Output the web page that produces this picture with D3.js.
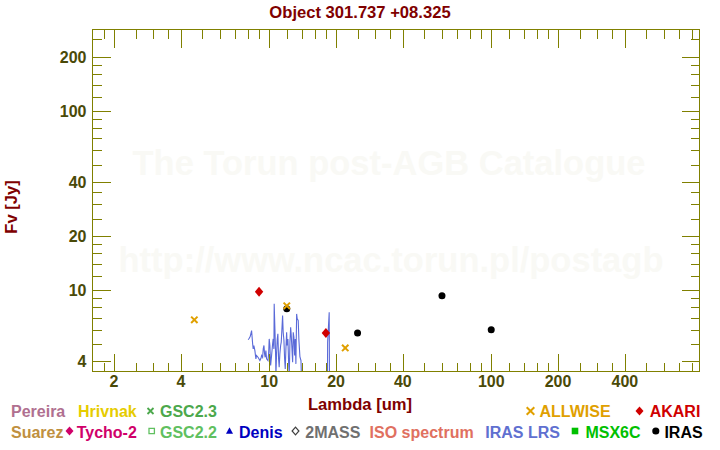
<!DOCTYPE html>
<html>
<head>
<meta charset="utf-8">
<script src="https://cdn.jsdelivr.net/npm/d3@7"></script>
<style>
html,body{margin:0;padding:0;background:#fff;}
svg{display:block;font-family:"Liberation Sans",Arial,Helvetica,sans-serif;font-weight:bold;}
</style>
</head>
<body>
<svg id="chart" width="720" height="450"></svg>
<script>
// ---------- DATA ----------
const title = "Object 301.737 +08.325";
const xLabel = "Lambda [um]";
const yLabel = "Fv [Jy]";
const watermark1 = "The Torun post-AGB Catalogue";
const watermark2 = "http://www.ncac.torun.pl/postagb";

const xMajorTicks = [2, 4, 10, 20, 40, 100, 200, 400];
const xMinorTicks = [1.8, 2.5, 3, 3.5, 5, 6, 7, 8, 9, 12, 14, 16, 18, 25, 30, 35, 50, 60, 70, 80, 90, 120, 140, 160, 180, 250, 300, 350, 500, 600, 700, 800];
const yMajorTicks = [4, 10, 20, 40, 100, 200];
const yMinorTicks = [5, 6, 7, 8, 9, 12, 14, 16, 18, 25, 30, 35, 50, 60, 70, 80, 90, 120, 140, 160, 180, 250];

// ALLWISE photometry
const allwiseLambda = [4.6, 12, 22];
const allwiseFlux = [6.80, 8.14, 4.74];
// AKARI photometry
const akariLambda = [9, 18];
const akariFlux = [9.75, 5.75];
// IRAS photometry
const irasLambda = [12, 25, 60, 100];
const irasFlux = [7.83, 5.75, 9.26, 5.98];

// IRAS LRS spectrum
const lrsLambda = [8.04, 8.13, 8.21, 8.33, 8.42, 8.47, 8.53, 8.62, 8.71, 8.77, 8.92, 9.08, 9.18, 9.24, 9.34, 9.40, 9.47, 9.53, 9.59, 9.66, 9.73, 9.87, 9.94, 10.00, 10.07, 10.15, 10.25, 10.36, 10.42, 10.50, 10.53, 10.61, 10.69, 10.72, 10.80, 10.87, 10.94, 11.02, 11.09, 11.17, 11.26, 11.33, 11.41, 11.49, 11.56, 11.65, 11.73, 11.81, 11.89, 11.98, 12.05, 12.14, 12.23, 12.31, 12.40, 12.49, 12.57, 12.66, 12.75, 12.83, 12.92, 13.02, 13.10, 13.19, 13.29, 13.37, 13.51, 13.61, 13.75, 13.90, 14.00, 14.5, 15.5, 16.5, 17.5, 18.10, 18.30, 18.33, 18.63, 18.68, 19.5, 20.5, 21.5, 22.6];
const lrsFlux = [5.26, 5.37, 5.48, 5.92, 5.01, 4.68, 4.89, 4.58, 4.12, 4.30, 4.19, 4.03, 4.15, 4.30, 4.20, 4.68, 4.89, 4.39, 4.20, 4.58, 4.12, 4.03, 4.39, 5.32, 4.89, 3.78, 4.30, 4.99, 5.32, 4.68, 8.35, 6.06, 4.20, 3.32, 4.48, 5.32, 5.68, 4.12, 3.70, 4.39, 4.89, 5.10, 6.06, 7.18, 5.80, 5.21, 4.12, 3.62, 4.68, 5.80, 4.89, 5.32, 3.94, 3.32, 5.10, 6.18, 5.56, 4.68, 3.94, 5.80, 5.44, 4.30, 5.32, 3.86, 7.34, 6.89, 6.74, 5.21, 4.24, 4.03, 3.00, 2.6, 2.4, 2.5, 2.3, 2.8, 3.2, 5.10, 7.50, 3.20, 2.6, 2.4, 2.5, 2.3];

// Legend
const legendRow1 = [
  {name: "Pereira", color: "#B07090", x: 11, sym: null},
  {name: "Hrivnak", color: "#E6CC00", x: 78, sym: null},
  {name: "GSC2.3", color: "#4CA84C", x: 160, sym: "xsmall", sx: 150.5},
  {name: "ALLWISE", color: "#E0A000", x: 539.5, sym: "x", sx: 530.5},
  {name: "AKARI", color: "#D00000", x: 649.7, sym: "diamond", sx: 639.5}
];
const legendRow2 = [
  {name: "Suarez", color: "#C09040", x: 11, sym: null},
  {name: "Tycho-2", color: "#D0006A", x: 76.7, sym: "diamond", sx: 69.5},
  {name: "GSC2.2", color: "#60C060", x: 160, sym: "squareOpen", sx: 151.7},
  {name: "Denis", color: "#0000C0", x: 239, sym: "triangle", sx: 229.5},
  {name: "2MASS", color: "#707070", x: 305.3, sym: "diamondOpen", sx: 295.5},
  {name: "ISO spectrum", color: "#E07060", x: 369.6, sym: null},
  {name: "IRAS LRS", color: "#6070D0", x: 485.3, sym: null},
  {name: "MSX6C", color: "#00C000", x: 585.4, sym: "square", sx: 575},
  {name: "IRAS", color: "#000000", x: 664.4, sym: "circle", sx: 655.8}
];

// ---------- CHART ----------
(function () {
const svg = d3.select("#chart");
const W = 720, H = 450;
const pL = 92.5, pR = 699.5, pT = 29.5, pB = 371.5;
const axisColor = "#808000";
const tickLabelColor = "#4A4A08";
const labelColor = "#800000";

const x = d3.scaleLog().domain([1.6, 867]).range([pL, pR]);
const y = d3.scaleLog().domain([3.5, 284]).range([pB, pT]);

svg.append("rect").attr("width", W).attr("height", H).attr("fill", "#fff");

// watermark
svg.append("text").attr("x", 389).attr("y", 175).attr("text-anchor", "middle")
  .attr("font-size", 34.5).attr("fill", "#F9F9F5").text(watermark1);
svg.append("text").attr("x", 391).attr("y", 271.5).attr("text-anchor", "middle")
  .attr("font-size", 34.5).attr("fill", "#F9F9F5").text(watermark2);

// clip
svg.append("clipPath").attr("id", "plotclip").append("rect")
  .attr("x", pL).attr("y", pT).attr("width", pR - pL).attr("height", pB - pT);

// spectrum
const lrsData = lrsLambda.map((l, i) => [l, lrsFlux[i]]);
svg.append("path").datum(lrsData)
  .attr("clip-path", "url(#plotclip)")
  .attr("fill", "none").attr("stroke", "#5A6AD8").attr("stroke-width", 1.1)
  .attr("d", d3.line().x(d => x(d[0])).y(d => y(d[1])));

const gm = svg.append("g").attr("clip-path", "url(#plotclip)");
// IRAS
gm.selectAll("circle.iras").data(irasLambda.map((l, i) => [l, irasFlux[i]])).join("circle")
  .attr("cx", d => x(d[0])).attr("cy", d => y(d[1])).attr("r", 3.5).attr("fill", "#000");
// AKARI
gm.selectAll("path.akari").data(akariLambda.map((l, i) => [l, akariFlux[i]])).join("path")
  .attr("transform", d => `translate(${x(d[0])},${y(d[1])})`)
  .attr("d", "M0,-5L4.2,0L0,5L-4.2,0Z").attr("fill", "#D00000");
// ALLWISE
gm.selectAll("path.wise").data(allwiseLambda.map((l, i) => [l, allwiseFlux[i]])).join("path")
  .attr("transform", d => `translate(${x(d[0])},${y(d[1])})`)
  .attr("d", "M-3.2,-3.2L3.2,3.2M-3.2,3.2L3.2,-3.2").attr("stroke", "#E0A000").attr("stroke-width", 2).attr("fill", "none");

// frame + ticks
const ax = svg.append("g").attr("stroke", axisColor).attr("stroke-width", 1).attr("shape-rendering", "crispEdges");
ax.append("rect").attr("x", pL).attr("y", pT).attr("width", pR - pL).attr("height", pB - pT).attr("fill", "none");
const xt = xMajorTicks.map(v => ({v, len: 18})).concat(xMinorTicks.map(v => ({v, len: 9})));
const yt = yMajorTicks.map(v => ({v, len: 18})).concat(yMinorTicks.map(v => ({v, len: 9})));
xt.forEach(t => {
  const px = Math.round(x(t.v)) + 0.5;
  ax.append("line").attr("x1", px).attr("x2", px).attr("y1", pB).attr("y2", pB - t.len);
  ax.append("line").attr("x1", px).attr("x2", px).attr("y1", pT).attr("y2", pT + t.len);
});
yt.forEach(t => {
  const py = Math.round(y(t.v)) + 0.5;
  ax.append("line").attr("y1", py).attr("y2", py).attr("x1", pL).attr("x2", pL + t.len);
  ax.append("line").attr("y1", py).attr("y2", py).attr("x1", pR).attr("x2", pR - t.len);
});

// tick labels
svg.append("g").selectAll("text").data(xMajorTicks).join("text")
  .attr("x", d => x(d)).attr("y", 387).attr("text-anchor", "middle")
  .attr("font-size", 16).attr("fill", tickLabelColor).text(d => d);
svg.append("g").selectAll("text").data(yMajorTicks).join("text")
  .attr("x", 86.5).attr("y", d => y(d) + 6).attr("text-anchor", "end")
  .attr("font-size", 16).attr("fill", tickLabelColor).text(d => d);

// titles
svg.append("text").attr("x", 360).attr("y", 17.5).attr("text-anchor", "middle")
  .attr("font-size", 16.6).attr("fill", labelColor).text(title);
svg.append("text").attr("x", 360).attr("y", 410).attr("text-anchor", "middle")
  .attr("font-size", 16.6).attr("fill", labelColor).text(xLabel);
svg.append("text").attr("transform", "translate(17,207) rotate(-90)").attr("text-anchor", "middle")
  .attr("font-size", 16.6).attr("fill", labelColor).text(yLabel);

// legend
function drawSym(g, sym, cx, cy, color) {
  if (!sym) return;
  const s = g.append("path").attr("transform", `translate(${cx},${cy})`);
  if (sym === "x") s.attr("d", "M-3.8,-3.8L3.8,3.8M-3.8,3.8L3.8,-3.8").attr("stroke", color).attr("stroke-width", 2).attr("fill", "none");
  else if (sym === "xsmall") s.attr("d", "M-3,-3L3,3M-3,3L3,-3").attr("stroke", color).attr("stroke-width", 1.8).attr("fill", "none");
  else if (sym === "diamond") s.attr("d", "M0,-4.5L4,0L0,4.5L-4,0Z").attr("fill", color);
  else if (sym === "diamondOpen") s.attr("d", "M0,-3.8L3.4,0L0,3.8L-3.4,0Z").attr("fill", "none").attr("stroke", "#404040").attr("stroke-width", 1.2);
  else if (sym === "squareOpen") s.attr("d", "M-2.7,-2.7H2.7V2.7H-2.7Z").attr("fill", "none").attr("stroke", color).attr("stroke-width", 1.3);
  else if (sym === "square") s.attr("d", "M-3.3,-3.3H3.3V3.3H-3.3Z").attr("fill", color);
  else if (sym === "triangle") s.attr("d", "M0,-3.8L3.5,2.7L-3.5,2.7Z").attr("fill", color);
  else if (sym === "circle") s.attr("d", d3.symbol(d3.symbolCircle, 40)()).attr("fill", color);
}
const lg = svg.append("g");
[[legendRow1, 416.7, 411], [legendRow2, 437.7, 431]].forEach(([row, by, sy]) => {
  row.forEach(it => {
    lg.append("text").attr("x", it.x).attr("y", by).attr("font-size", 16).attr("fill", it.color).text(it.name);
    drawSym(lg, it.sym, it.sx, sy, it.color);
  });
});
})();
</script>
</body>
</html>
